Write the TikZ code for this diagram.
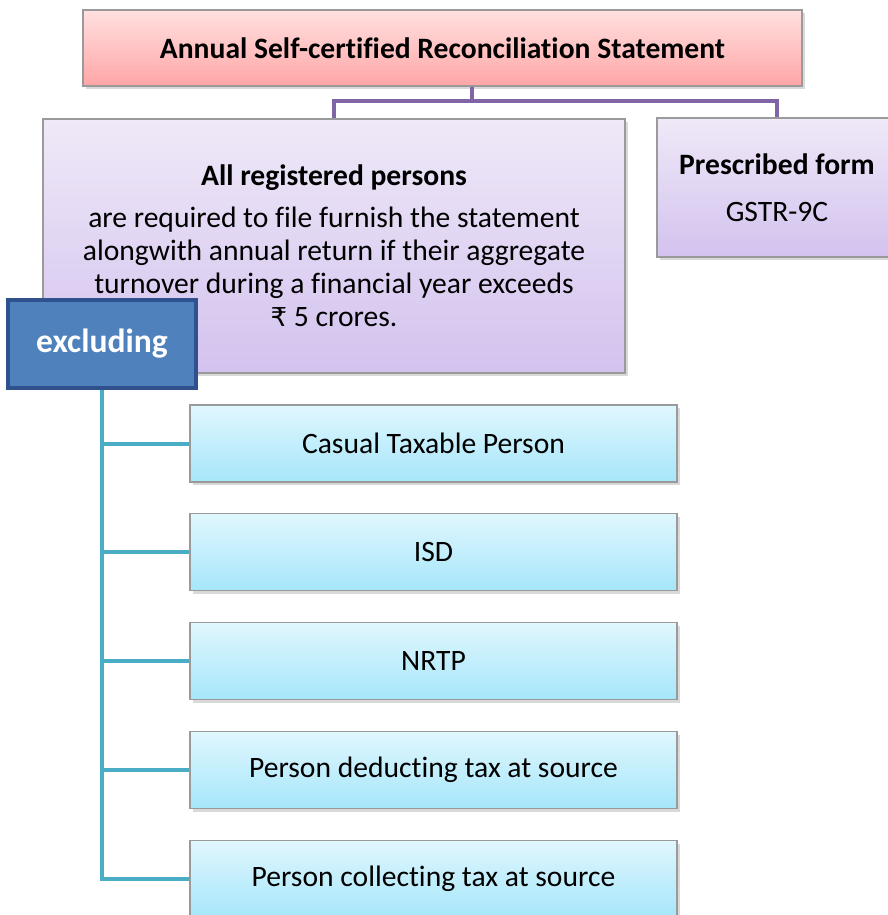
\documentclass[tikz,border=0pt]{standalone}
\usepackage{fontspec}
\setmainfont{Carlito}[Ligatures={NoCommon}]
\newfontfamily\rupeefont{DejaVu Sans}
\usetikzlibrary{positioning,shadows}

\definecolor{pinktop}{HTML}{FFE0E0}
\definecolor{pinkbot}{HTML}{FFA6A6}
\definecolor{lavtop}{HTML}{EFE9F8}
\definecolor{lavbot}{HTML}{D3C2EE}
\definecolor{cyantop}{HTML}{E0F7FE}
\definecolor{cyanbot}{HTML}{A6E6FA}
\definecolor{boxline}{HTML}{9A9A9A}
\definecolor{busline}{HTML}{7F64A6}
\definecolor{tealline}{HTML}{4BACC6}
\definecolor{exclfill}{HTML}{4F81BD}
\definecolor{excldraw}{HTML}{2F528F}

\tikzset{
  shadowbox/.style={draw=boxline, line width=0.6pt, inner sep=0pt, align=center,
    drop shadow={shadow xshift=1.5pt, shadow yshift=-1.5pt, opacity=0.25, fill=black!60}},
  titlebox/.style={shadowbox, top color=pinktop, bottom color=pinkbot,
    minimum width=359.5pt, minimum height=38pt, font=\fontsize{14.8}{17}\selectfont\bfseries},
  infobox/.style={shadowbox, top color=lavtop, bottom color=lavbot,
    font=\fontsize{14.8}{16.5}\selectfont},
  itembox/.style={shadowbox, top color=cyantop, bottom color=cyanbot,
    minimum width=243.5pt, minimum height=38.5pt, font=\fontsize{14.8}{17}\selectfont},
  exclbox/.style={draw=excldraw, line width=1.6pt, fill=exclfill, text=white, inner sep=0pt,
    minimum width=94pt, minimum height=44pt, font=\fontsize{16.8}{19}\selectfont\bfseries},
  busconn/.style={draw=busline, line width=2pt},
  listconn/.style={draw=tealline, line width=2pt}
}

\begin{document}
\begin{tikzpicture}[x=0.5pt, y=0.5pt]
  \clip (0,0) rectangle (888,-915);
  \useasboundingbox (0,0) rectangle (888,-915);

  % top statement
  \node[titlebox] (stmt) at (442.5,-48) {Annual Self-certified Reconciliation Statement};

  % second row
  \node[infobox, minimum width=291pt, minimum height=127pt] (regd) at (334,-246)
    {\textbf{All registered persons}\\[4.5pt]
     are required to file furnish the statement\\
     alongwith annual return if their aggregate\\
     turnover during a financial year exceeds\\
     {\rupeefont\fontsize{13}{15}\selectfont ₹} 5 crores.};
  \node[infobox, minimum width=120pt, minimum height=69.5pt] (presc) at (777,-187.5)
    {\textbf{Prescribed form}\\[7pt] GSTR-9C};

  \draw[busconn] ([xshift=14.75pt]stmt.south) -- ++(0,-14) -| (regd.north);
  \draw[busconn] ([xshift=14.75pt]stmt.south) -- ++(0,-14) -| (presc.north);

  % excluding list
  \node[exclbox] (excl) at (102,-344) {excluding};

  \node[itembox] (casual) at (433.5,-443.5) {Casual Taxable Person};
  \node[itembox] (isd)    at (433.5,-552)   {ISD};
  \node[itembox] (nrtp)   at (433.5,-661)   {NRTP};
  \node[itembox] (tds)    at (433.5,-770)   {Person deducting tax at source};
  \node[itembox] (tcs)    at (433.5,-879)   {Person collecting tax at source};

  \draw[listconn] (excl.south) |- (tcs.west);
  \foreach \item in {casual,isd,nrtp,tds}
    \draw[listconn] (excl.south |- \item.west) -- (\item.west);
\end{tikzpicture}
\end{document}
